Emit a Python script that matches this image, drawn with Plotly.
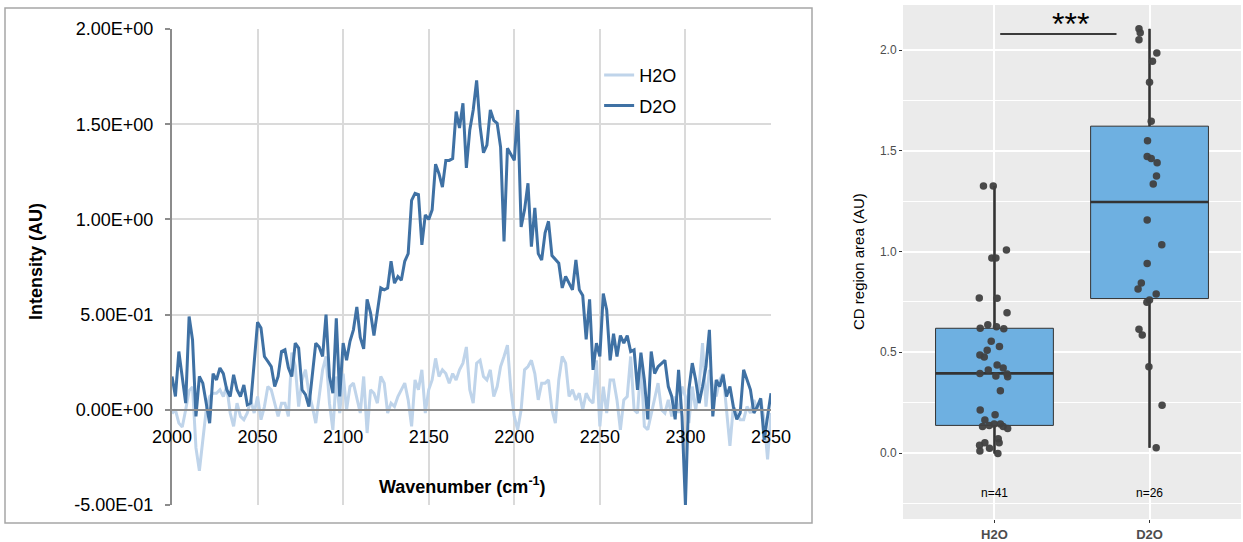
import numpy as np
import plotly.graph_objects as go

# ---------------- data: spectra (left panel) ----------------
wavenumber = list(range(2000, 2351, 2))
h2o_spectrum = [
    -0.02, 0.0, -0.07, -0.09, 0.0, 0.10, 0.12, -0.20, -0.32, -0.16,          # 2000
    0.0, 0.07, 0.087, 0.087, 0.105, 0.07, 0.122, -0.017, -0.087, 0.035,      # 2020
    -0.035, -0.052, -0.017, 0.052, -0.017, 0.07, -0.052, 0.017, 0.122, 0.105,  # 2040
    0.035, -0.035, 0.035, 0.035, -0.035, 0.30, 0.23, 0.017, 0.157, 0.21,     # 2060
    0.087, 0.017, -0.07, 0.087, 0.21, 0.28, 0.035, -0.105, 0.175, -0.017,    # 2080
    0.19, 0.0, 0.122, 0.14, 0.052, -0.017, 0.175, -0.122, 0.105, 0.087,      # 2100
    0.035, 0.175, 0.14, -0.017, 0.035, 0.017, 0.07, 0.105, 0.14, 0.052,      # 2120
    -0.087, 0.157, 0.105, 0.21, -0.017, 0.105, 0.157, 0.27, 0.175, 0.21,     # 2140
    0.19, 0.14, 0.19, 0.157, 0.21, 0.245, 0.33, 0.105, 0.035, 0.245,         # 2160
    0.26, 0.175, 0.157, 0.21, 0.07, 0.122, 0.227, 0.28, 0.34, 0.105,         # 2180
    -0.035, -0.105, 0.0, 0.21, 0.227, 0.26, 0.19, 0.052, 0.14, 0.14,         # 2200
    0.157, 0.0, -0.07, 0.157, 0.28, 0.245, 0.07, 0.105, 0.052, 0.087,        # 2220
    0.0, 0.087, 0.052, 0.035, 0.26, -0.087, 0.122, -0.017, 0.157, 0.157,     # 2240
    0.052, -0.105, 0.052, 0.07, 0.28, 0.0, -0.017, 0.245, -0.087, -0.105,    # 2260
    -0.017, 0.052, 0.14, 0.0, -0.017, 0.052, -0.035, 0.07, -0.017, 0.122,    # 2280
    0.07, -0.07, 0.122, 0.0, 0.122, 0.35, 0.017, 0.21, 0.122, 0.07,          # 2300
    0.157, 0.19, 0.017, -0.19, 0.017, -0.017, -0.052, -0.052, 0.017, -0.017,  # 2320
    0.052, 0.0, 0.052, -0.052, -0.26, -0.017,                                # 2340
]
d2o_spectrum = [
    0.175, 0.07, 0.306, 0.157, 0.035, 0.49, 0.367, -0.035, 0.175, 0.14,      # 2000
    0.035, -0.07, 0.19, 0.157, 0.22, 0.19, 0.105, 0.07, 0.184, 0.105,        # 2020
    0.07, 0.13, 0.026, 0.035, 0.245, 0.46, 0.43, 0.28, 0.254, 0.227,         # 2040
    0.122, 0.175, 0.306, 0.315, 0.22, 0.175, 0.35, 0.324, 0.105, 0.08,       # 2060
    0.017, 0.19, 0.35, 0.33, 0.28, 0.50, 0.175, 0.087, 0.48, 0.07,           # 2080
    0.35, 0.26, 0.36, 0.42, 0.54, 0.38, 0.32, 0.58, 0.51, 0.39,              # 2100
    0.52, 0.64, 0.63, 0.64, 0.78, 0.665, 0.70, 0.68, 0.78, 0.82,             # 2120
    1.10, 1.137, 1.13, 0.866, 1.024, 1.00, 1.05, 1.29, 1.24, 1.17,           # 2140
    1.31, 1.31, 1.32, 1.566, 1.48, 1.61, 1.27, 1.47, 1.575, 1.73,            # 2160
    1.49, 1.35, 1.39, 1.575, 1.52, 1.505, 1.38, 0.884, 1.374, 1.34,          # 2180
    1.31, 1.575, 0.96, 1.05, 1.19, 0.857, 1.06, 0.82, 0.787, 0.93,           # 2200
    0.99, 0.81, 0.787, 0.77, 0.64, 0.70, 0.665, 0.63, 0.787, 0.63,           # 2220
    0.60, 0.37, 0.58, 0.21, 0.35, 0.28, 0.61, 0.525, 0.26, 0.40,             # 2240
    0.28, 0.39, 0.35, 0.39, 0.306, 0.315, 0.105, 0.30, 0.157, -0.05,         # 2260
    0.306, 0.19, 0.227, 0.245, 0.26, 0.122, 0.07, -0.05, 0.21, -0.035,       # 2280
    -0.5, 0.105, 0.245, 0.157, 0.035, 0.122, 0.227, 0.42, -0.035, 0.157,     # 2300
    0.122, 0.184, 0.07, 0.122, 0.017, -0.05, -0.017, 0.21, 0.157, 0.105,     # 2320
    -0.017, 0.017, 0.06, -0.157, -0.035, 0.087,                              # 2340
]
intensity_ticks = [-0.5, 0.0, 0.5, 1.0, 1.5, 2.0]
intensity_labels = ["-5.00E-01", "0.00E+00", "5.00E-01", "1.00E+00", "1.50E+00", "2.00E+00"]
wn_ticks = list(range(2000, 2351, 50))

# ---------------- data: CD region area (right panel) ----------------
groups = ["H2O", "D2O"]
h2o_area = [1.325, 1.325, 1.007, 0.968, 0.968, 0.769, 0.768, 0.696, 0.619, 0.637,
            0.627, 0.617, 0.554, 0.528, 0.510, 0.486, 0.476, 0.437, 0.422, 0.412,
            0.395, 0.382, 0.392, 0.379, 0.309, 0.213, 0.190, 0.164, 0.132, 0.137,
            0.144, 0.144, 0.131, 0.121, 0.071, 0.051, 0.051, 0.038, 0.023, 0.010,
            -0.003]
h2o_jitter = [-0.071, -0.008, 0.077, -0.017, 0.009, -0.098, 0.017, 0.081, -0.092, -0.043,
              0.013, 0.060, -0.021, 0.032, -0.047, -0.094, -0.066, 0.017, 0.056, -0.040,
              -0.094, 0.009, 0.081, 0.085, 0.038, -0.092, 0.004, -0.062, -0.077, -0.034,
              -0.002, 0.038, 0.056, 0.085, 0.024, 0.030, -0.062, -0.096, -0.032, -0.094,
              0.022]
d2o_area = [2.105, 2.085, 2.051, 1.985, 1.944, 1.840, 1.646, 1.550, 1.472, 1.462,
            1.441, 1.375, 1.335, 1.156, 1.034, 0.941, 0.844, 0.814, 0.789, 0.759,
            0.748, 0.614, 0.586, 0.428, 0.237, 0.026]
d2o_jitter = [-0.068, -0.060, -0.068, 0.047, 0.019, 0.000, 0.011, -0.013, -0.015, 0.011,
              0.049, 0.045, 0.024, -0.015, 0.079, -0.015, -0.053, -0.074, 0.043, 0.000,
              -0.017, -0.068, -0.047, -0.004, 0.081, 0.043]
significance = "***"

# ---------------- styles ----------------
FONT = "Liberation Sans, Arial, Helvetica, sans-serif"
LIGHT = "#BFD4EA"
DARK = "#3F71A4"
GRID = "#DADADA"
AXIS = "#8C8C8C"
BOXFILL = "#6EB0E1"
DARKLINE = "#333333"
PANEL = "#EBEBEB"

fig = go.Figure()

# left panel
fig.add_trace(go.Scatter(x=wavenumber, y=h2o_spectrum, mode="lines", name="H2O",
                         legendgroup="h2o",
                         line=dict(color=LIGHT, width=3), xaxis="x", yaxis="y"))
fig.add_trace(go.Scatter(x=wavenumber, y=d2o_spectrum, mode="lines", name="D2O",
                         legendgroup="d2o",
                         line=dict(color=DARK, width=3), xaxis="x", yaxis="y"))

# right panel (Tukey boxplot, R type-7 quantiles)
def box_stats(v):
    v = np.asarray(v, dtype=float)
    q1, med, q3 = np.percentile(v, [25, 50, 75])
    iqr = q3 - q1
    lo = v[v >= q1 - 1.5 * iqr].min()
    hi = v[v <= q3 + 1.5 * iqr].max()
    return q1, med, q3, lo, hi

BOXW = 0.76
for pos, (name, vals, jit) in enumerate(
        [("H2O", h2o_area, h2o_jitter), ("D2O", d2o_area, d2o_jitter)], start=1):
    q1, med, q3, lo, hi = box_stats(vals)
    fig.add_trace(go.Box(x=[pos], q1=[q1], median=[med], q3=[q3],
                         lowerfence=[lo], upperfence=[hi],
                         width=BOXW, name=name, boxpoints=False, whiskerwidth=0,
                         fillcolor=BOXFILL, line=dict(color=DARKLINE, width=1),
                         showlegend=False, hoverinfo="skip", xaxis="x2", yaxis="y2"))
    fig.add_trace(go.Scatter(
        x=[pos, pos, None, pos, pos, None, pos - BOXW / 2, pos + BOXW / 2],
        y=[q3, hi, None, q1, lo, None, med, med],
        mode="lines", line=dict(color=DARKLINE, width=2.6),
        showlegend=False, hoverinfo="skip", xaxis="x2", yaxis="y2"))
    fig.add_trace(go.Scatter(
        x=[pos + j for j in jit], y=vals, mode="markers",
        marker=dict(color="#404040", size=7.5, opacity=0.95, line=dict(width=0)),
        showlegend=False, hoverinfo="skip", xaxis="x2", yaxis="y2"))
    fig.add_annotation(x=pos, y=-0.2, xref="x2", yref="y2", text=f"n={len(vals)}",
                       showarrow=False, font=dict(family=FONT, size=12, color="black"))

# significance bar
fig.add_shape(type="line", xref="x2", yref="y2", x0=1.037, x1=1.787, y0=2.08, y1=2.08,
              line=dict(color="black", width=1.5))
fig.add_annotation(x=1.49, y=2.03, xref="x2", yref="y2", text=significance, showarrow=False,
                   xanchor="center", yanchor="bottom",
                   font=dict(family=FONT, size=32, color="black"))

# right panel background
fig.add_shape(type="rect", xref="paper", yref="paper", x0=903 / 1243, x1=1241 / 1243,
              y0=23 / 542, y1=537 / 542, fillcolor=PANEL, line=dict(width=0), layer="below")
# left chart border
fig.add_shape(type="rect", xref="paper", yref="paper", x0=5 / 1243, x1=812 / 1243,
              y0=19 / 542, y1=534 / 542, line=dict(color="#A6A6A6", width=1.5),
              fillcolor="rgba(0,0,0,0)", layer="below")

# titles
fig.add_annotation(x=36 / 1243, y=(542 - 262) / 542, xref="paper", yref="paper",
                   text="<b>Intensity (AU)</b>", xanchor="center", yanchor="middle",
                   textangle=-90, showarrow=False, font=dict(family=FONT, size=18, color="black"))
fig.add_annotation(x=462 / 1243, y=(542 - 485) / 542, xref="paper", yref="paper",
                   text="<b>Wavenumber (cm<sup>-1</sup>)</b>", xanchor="center", yanchor="middle",
                   showarrow=False, font=dict(family=FONT, size=18, color="black"))
fig.add_annotation(x=858 / 1243, y=(542 - 262) / 542, xref="paper", yref="paper",
                   text="CD region area (AU)", xanchor="center", yanchor="middle",
                   textangle=-90, showarrow=False, font=dict(family=FONT, size=15, color="black"))

fig.update_layout(
    width=1243, height=542,
    margin=dict(l=0, r=0, t=0, b=0, autoexpand=False),
    paper_bgcolor="white", plot_bgcolor="rgba(0,0,0,0)",
    font=dict(family=FONT, color="black"),
    showlegend=True,
    legend=dict(x=0.482, y=0.895, xanchor="left", yanchor="top",
                bgcolor="rgba(0,0,0,0)", font=dict(family=FONT, size=18, color="black"),
                itemwidth=30, tracegroupgap=4),
    xaxis=dict(domain=[172 / 1243, 771 / 1243], range=[2000, 2350], tickvals=wn_ticks,
               anchor="free", position=(542 - 410) / 542, automargin=False,
               showline=True, linecolor=AXIS, linewidth=2, ticks="outside", ticklen=0,
               ticklabelstandoff=10,
               showgrid=True, gridcolor=GRID, gridwidth=2, zeroline=False,
               tickfont=dict(family=FONT, size=18, color="black")),
    yaxis=dict(domain=[(542 - 505) / 542, (542 - 29) / 542], range=[-0.5, 2.0],
               tickvals=intensity_ticks, ticktext=intensity_labels, automargin=False,
               showline=True, linecolor=AXIS, linewidth=2, ticks="outside", ticklen=5,
               tickcolor=AXIS, tickwidth=2, ticklabelstandoff=8,
               showgrid=True, gridcolor=GRID, gridwidth=2, zeroline=False,
               tickfont=dict(family=FONT, size=18, color="black")),
    xaxis2=dict(domain=[903 / 1243, 1241 / 1243], range=[0.41, 2.59], anchor="y2",
                tickvals=[1, 2], ticktext=[f"<b>{g}</b>" for g in groups], automargin=False,
                ticks="outside", ticklen=3, tickcolor=DARKLINE, showline=False,
                showgrid=True, gridcolor="white", gridwidth=1.6, zeroline=False,
                tickfont=dict(family=FONT, size=13, color="#4D4D4D")),
    yaxis2=dict(domain=[23 / 542, 537 / 542], range=[-0.3275, 2.2233], anchor="x2",
                tick0=0, dtick=0.5, tickformat=".1f", automargin=False,
                ticks="outside", ticklen=3, tickcolor=DARKLINE, showline=False,
                showgrid=True, gridcolor="white", gridwidth=1.6, zeroline=False,
                minor=dict(tick0=0, dtick=0.25, showgrid=True, gridcolor="white", gridwidth=1),
                tickfont=dict(family=FONT, size=12, color="#4D4D4D")),
)

fig.write_html("out.html", config={"displayModeBar": False},
               post_script="document.body.style.margin='0';")
